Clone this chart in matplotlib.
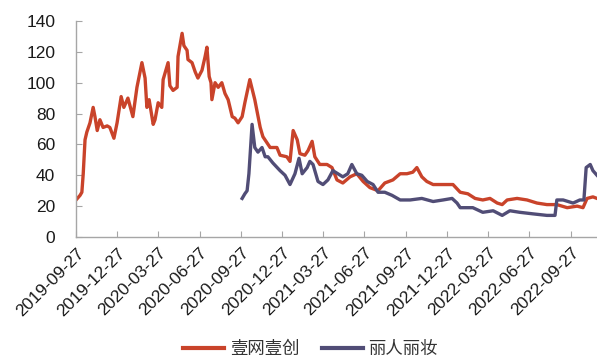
import matplotlib
matplotlib.use("Agg")
import matplotlib.pyplot as plt
import matplotlib.dates as mdates
import pandas as pd

plt.rcParams['font.family'] = ['Liberation Sans', 'Noto Sans CJK SC', 'DejaVu Sans']

# 壹网壹创 price series
yiwang_dates = [
    "2019-09-27", "2019-10-06", "2019-10-10", "2019-10-13", "2019-10-17", "2019-10-21",
    "2019-10-28", "2019-11-04", "2019-11-08", "2019-11-13", "2019-11-19", "2019-11-26",
    "2019-12-05", "2019-12-11", "2019-12-20", "2019-12-27", "2020-01-05", "2020-01-11",
    "2020-01-20", "2020-01-31", "2020-02-09", "2020-02-20", "2020-02-27", "2020-03-02",
    "2020-03-07", "2020-03-16", "2020-03-20", "2020-03-27", "2020-04-04", "2020-04-07",
    "2020-04-18", "2020-04-22", "2020-04-29", "2020-05-08", "2020-05-10", "2020-05-19",
    "2020-05-23", "2020-05-30", "2020-06-01", "2020-06-10", "2020-06-17", "2020-06-23",
    "2020-07-02", "2020-07-09", "2020-07-13", "2020-07-18", "2020-07-22", "2020-07-24",
    "2020-07-31", "2020-08-07", "2020-08-15", "2020-08-22", "2020-08-29", "2020-09-07",
    "2020-09-13", "2020-09-20", "2020-09-29", "2020-10-05", "2020-10-16", "2020-10-27",
    "2020-11-08", "2020-11-14", "2020-11-30", "2020-12-15", "2020-12-22", "2021-01-06",
    "2021-01-13", "2021-01-20", "2021-01-29", "2021-02-04", "2021-02-15", "2021-02-22",
    "2021-03-03", "2021-03-09", "2021-03-20", "2021-04-05", "2021-04-16", "2021-04-27",
    "2021-05-10", "2021-05-26", "2021-06-10", "2021-06-24", "2021-07-09", "2021-07-27",
    "2021-08-11", "2021-08-29", "2021-09-14", "2021-09-29", "2021-10-12", "2021-10-21",
    "2021-11-01", "2021-11-12", "2021-11-26", "2021-12-18", "2022-01-09", "2022-01-25",
    "2022-02-11", "2022-02-27", "2022-03-16", "2022-04-01", "2022-04-17", "2022-04-28",
    "2022-05-09", "2022-05-31", "2022-06-22", "2022-07-14", "2022-08-05", "2022-08-27",
    "2022-09-19", "2022-10-11", "2022-10-24", "2022-11-02", "2022-11-15", "2022-11-24",
]
yiwang_values = [
    24, 27, 29, 41, 63, 68,
    74, 84, 78, 69, 76, 71,
    72, 71, 64, 74, 91, 84,
    90, 78, 97, 113, 103, 84,
    89, 73, 76, 87, 84, 102,
    113, 98, 95, 97, 117, 132,
    124, 121, 115, 113, 107, 103,
    108, 117, 123, 104, 100, 89,
    100, 97, 100, 93, 89, 78,
    77, 74, 78, 87, 102, 89,
    71, 65, 58, 58, 53, 52,
    49, 69, 63, 54, 53, 56,
    62, 52, 47, 47, 45, 37,
    35, 39, 41, 36, 32, 30,
    35, 37, 41, 41, 42, 45,
    39, 36, 34, 34, 34, 29,
    28, 25, 24, 25, 22, 21,
    24, 25, 24, 22, 21, 21,
    19, 20, 19, 25, 26, 25,
]

# 丽人丽妆 price series
liren_dates = [
    "2020-09-29", "2020-10-05", "2020-10-10", "2020-10-14", "2020-10-21", "2020-10-27",
    "2020-11-03", "2020-11-12", "2020-11-19", "2020-11-25", "2020-12-06", "2020-12-22",
    "2021-01-02", "2021-01-13", "2021-01-24", "2021-02-02", "2021-02-09", "2021-02-20",
    "2021-02-26", "2021-03-05", "2021-03-16", "2021-03-27", "2021-04-07", "2021-04-18",
    "2021-04-29", "2021-05-10", "2021-05-21", "2021-05-30", "2021-06-10", "2021-06-21",
    "2021-07-03", "2021-07-16", "2021-07-27", "2021-08-11", "2021-08-27", "2021-09-14",
    "2021-10-06", "2021-11-01", "2021-11-26", "2021-12-18", "2022-01-07", "2022-01-18",
    "2022-01-25", "2022-02-22", "2022-03-16", "2022-04-08", "2022-04-28", "2022-05-15",
    "2022-06-06", "2022-07-05", "2022-08-05", "2022-08-23", "2022-08-27", "2022-09-10",
    "2022-10-02", "2022-10-17", "2022-10-26", "2022-10-31", "2022-11-09", "2022-11-15",
    "2022-11-24",
]
liren_values = [
    25, 28, 30, 41, 73, 58,
    55, 58, 52, 52, 48, 43,
    40, 34, 41, 51, 41, 45,
    49, 47, 36, 34, 37, 43,
    41, 39, 41, 47, 41, 40,
    36, 34, 29, 29, 27, 24,
    24, 25, 23, 24, 25, 22,
    19, 19, 16, 17, 14, 17,
    16, 15, 14, 14, 24, 24,
    22, 24, 24, 45, 47, 43,
    40,
]

series_names = ["壹网壹创", "丽人丽妆"]
series_colors = ["#C9432A", "#514D76"]

tick_dates = ["2019-09-27", "2019-12-27", "2020-03-27", "2020-06-27", "2020-09-27",
              "2020-12-27", "2021-03-27", "2021-06-27", "2021-09-27", "2021-12-27",
              "2022-03-27", "2022-06-27", "2022-09-27"]
y_ticks = [0, 20, 40, 60, 80, 100, 120, 140]

fig = plt.figure(figsize=(5.97, 3.58), dpi=100)
ax = fig.add_axes([0.1273, 0.338, 0.8727, 0.6034])

ax.plot(pd.to_datetime(yiwang_dates), yiwang_values, color=series_colors[0],
        lw=2.4, label=series_names[0], solid_joinstyle='round')
ax.plot(pd.to_datetime(liren_dates), liren_values, color=series_colors[1],
        lw=2.4, label=series_names[1], solid_joinstyle='round')

ax.set_xlim(pd.Timestamp("2019-09-27"), pd.Timestamp("2022-11-24"))
ax.set_ylim(0, 140)
ax.set_yticks(y_ticks)
ax.set_xticks(pd.to_datetime(tick_dates))
ax.xaxis.set_major_formatter(mdates.DateFormatter("%Y-%m-%d"))

for s in ["top", "right"]:
    ax.spines[s].set_visible(False)
for s in ["left", "bottom"]:
    ax.spines[s].set_color("#A6A6A6")
    ax.spines[s].set_linewidth(1.0)

ax.tick_params(axis="both", direction="in", length=4, color="#A6A6A6",
               labelsize=12.5, labelcolor="#1A1A1A")
ax.tick_params(axis="y", pad=15)
ax.tick_params(axis="x", pad=6)
for lbl in ax.get_xticklabels():
    lbl.set_rotation(45)
    lbl.set_ha("right")
    lbl.set_rotation_mode("anchor")

leg = fig.legend(loc="center", bbox_to_anchor=(0.52, 0.025), ncol=2, frameon=False,
                 prop={"family": ["Noto Sans CJK SC", "DejaVu Sans"], "size": 12.5},
                 handlelength=2.4, handletextpad=0.3, columnspacing=1.3)
for t in leg.get_texts():
    t.set_color("#333333")
for h in leg.get_lines():
    h.set_linewidth(3)

fig.savefig("out.png", dpi=100)
